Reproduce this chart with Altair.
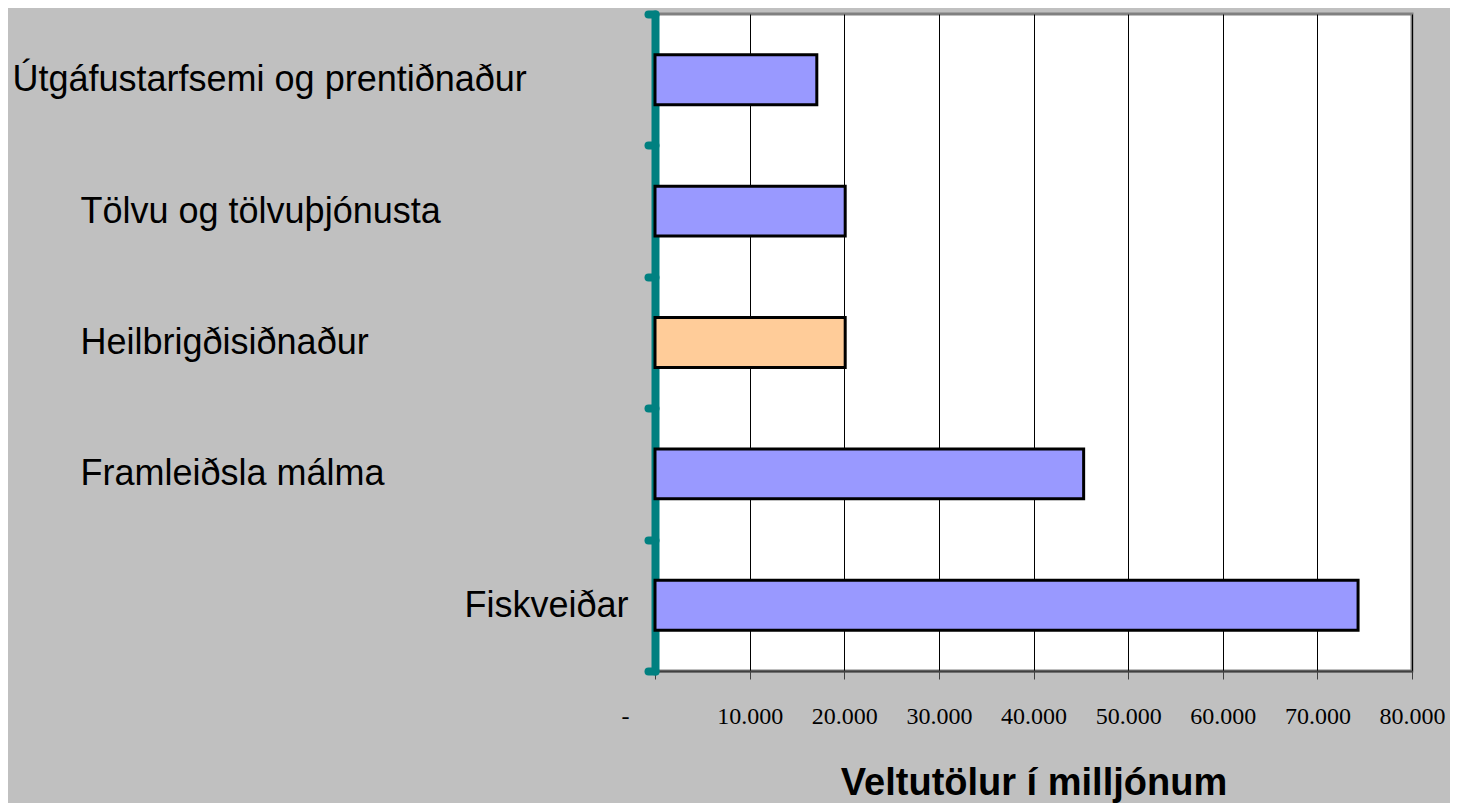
import altair as alt
import pandas as pd

categories = ["Útgáfustarfsemi og prentiðnaður", "Tölvu og tölvuþjónusta",
              "Heilbrigðisiðnaður", "Framleiðsla málma", "Fiskveiðar"]
values = [17100, 20100, 20100, 45300, 74300]
highlight = [False, False, True, False, False]

df = pd.DataFrame({"cat": categories, "val": values, "hl": highlight})

LABEL_FONT = "Liberation Sans, Arial"
yscale = alt.Scale(domain=categories, paddingInner=0, paddingOuter=0)

def y_axis(show, align, offset, main=False):
    test = " || ".join([f"datum.value == '{c}'" for c in show])
    return alt.Axis(
        title=None,
        orient="left",
        labelExpr=f"({test}) ? datum.value : ''",
        labelAlign=align,
        labelBaseline="middle",
        labelFont=LABEL_FONT,
        labelFontSize=36,
        labelColor="black",
        labelLimit=0,
        labelPadding=offset - (7 if main else 0),
        domain=main,
        domainColor="#008080",
        domainWidth=8,
        domainCap="round",
        ticks=main,
        tickColor="#008080",
        tickWidth=8,
        tickSize=7,
        tickCap="round",
        tickBand="extent",
        grid=False,
    )

x_axis = alt.Axis(
    title="Veltutölur í milljónum",
    titleFont="Liberation Sans",
    titleFontSize=38,
    titleFontWeight="bold",
    titleColor="black",
    titlePadding=36,
    values=[0, 10000, 20000, 30000, 40000, 50000, 60000, 70000, 80000],
    labelExpr="datum.value == 0 ? '-' : replace(format(datum.value, ','), ',', '.')",
    labelOffset={"condition": {"test": "datum.value == 0", "value": -30}, "value": 0},
    labelFont="Liberation Serif",
    labelFontSize=24,
    labelColor="black",
    labelPadding=25,
    labelFlush=False,
    domainColor="#404040",
    domainWidth=2,
    tickColor="#404040",
    tickSize=8,
    tickWidth=1,
    grid=True,
    gridColor="#000000",
    gridWidth=1,
)

bars = alt.Chart(df).mark_bar(stroke="black", strokeWidth=3, height={"band": 0.38}).encode(
    x=alt.X("val:Q", scale=alt.Scale(domain=[0, 80000], nice=False), axis=x_axis),
    y=alt.Y("cat:N", scale=yscale, sort=categories,
            axis=y_axis(["Tölvu og tölvuþjónusta", "Heilbrigðisiðnaður", "Framleiðsla málma"],
                        "left", 575, main=True)),
    color=alt.Color("hl:N", scale=alt.Scale(domain=[False, True], range=["#9999FF", "#FFCC99"]),
                    legend=None),
)

lab_fisk = alt.Chart(df).mark_point(opacity=0).encode(
    y=alt.Y("cat:N", scale=yscale, sort=categories,
            axis=y_axis(["Fiskveiðar"], "right", 27)),
)

lab_utg = alt.Chart(df).mark_point(opacity=0).encode(
    y=alt.Y("cat:N", scale=yscale, sort=categories,
            axis=y_axis(["Útgáfustarfsemi og prentiðnaður"], "left", 643)),
)

chart = alt.layer(bars, lab_fisk, lab_utg).resolve_axis(y="independent").properties(
    width=757,
    height=657,
    background="#C0C0C0",
    autosize=alt.AutoSizeParams(type="none"),
    padding={"left": 647, "top": 6, "right": 38, "bottom": 132},
).configure_view(
    fill="white",
    stroke="#808080",
    strokeWidth=3,
)

chart.save("out.html", embed_options={"renderer": "svg", "actions": False})
